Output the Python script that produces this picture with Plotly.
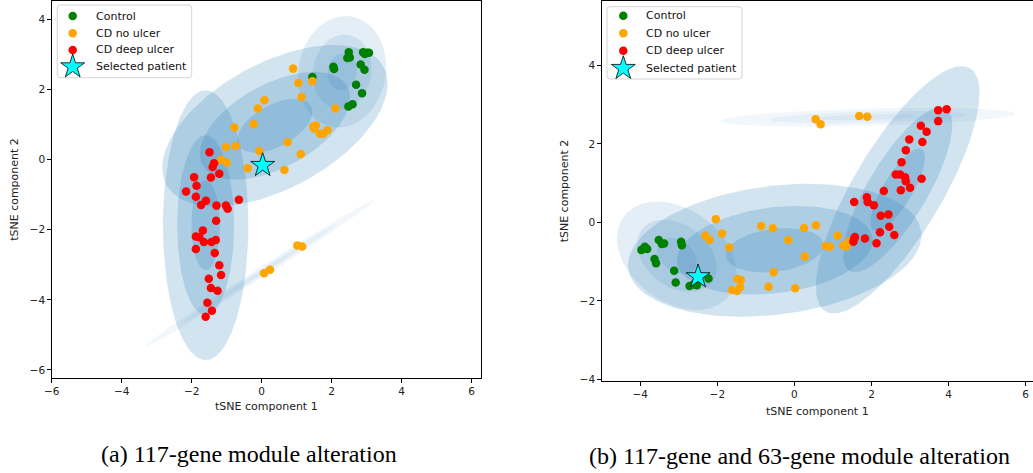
import numpy as np
import plotly.graph_objects as go

# ---------------- Panel (a): 117-gene module alteration ----------------
a_ctrl_x = [2.49, 2.45, 2.52, 2.90, 3.00, 3.07, 2.95, 2.05, 2.07, 2.83, 2.94, 1.45, 2.70, 2.87, 2.48, 2.60]
a_ctrl_y = [3.07, 2.90, 2.92, 3.07, 3.05, 3.05, 3.02, 2.65, 2.59, 2.72, 2.57, 2.36, 2.14, 1.90, 1.52, 1.58]

a_noul_x = [0.90, 1.05, 1.45, 1.14, 0.08, -0.11, 2.11, -0.23, -0.78, 1.48, 1.55, 1.50, 1.67, 1.76,
            1.88, 0.74, -1.02, -0.74, -0.07, 1.12, -1.16, -1.00, -0.40, 0.65, 1.02, 1.16, 0.07, 0.24]
a_noul_y = [2.60, 2.19, 2.24, 1.79, 1.70, 1.46, 1.46, 1.01, 0.92, 0.95, 0.98, 0.89, 0.74, 0.74,
            0.84, 0.50, 0.36, 0.39, 0.25, 0.16, 0.00, -0.08, -0.24, -0.29, -2.45, -2.48, -3.24, -3.14]

a_deep_x = [-1.49, -1.36, -1.40, -1.21, -1.45, -1.93, -1.86, -2.16, -1.88, -1.73, -1.59, -1.29, -1.02,
            -0.97, -0.65, -1.30, -1.68, -1.88, -1.78, -1.65, -1.43, -1.31, -1.88, -1.34, -1.21, -1.16,
            -1.51, -1.45, -1.26, -1.55, -1.42, -1.60]
a_deep_y = [0.21, -0.10, -0.21, -0.40, -0.51, -0.50, -0.74, -0.91, -1.06, -1.29, -1.17, -1.31, -1.31,
            -1.40, -1.14, -1.74, -2.02, -2.19, -2.21, -2.35, -2.35, -2.29, -2.55, -2.66, -3.01, -3.29,
            -3.40, -3.66, -3.74, -4.08, -4.31, -4.48]

a_sel_x = [0.03]
a_sel_y = [-0.16]

# Gaussian components (centre, 1-sigma semi-axes, angle in degrees, alpha)
a_ell_cx = [0.38, -1.60, 2.30, -0.05]
a_ell_cy = [0.97, -1.87, 2.51, -3.24]
a_ell_sa = [1.177, 1.283, 0.533, 1.30]
a_ell_sb = [0.597, 0.407, 0.417, 0.047]
a_ell_ang = [28.4, 90.0, 80.0, 32.5]
a_ell_alpha = [0.2, 0.2, 0.12, 0.06]

# ---------------- Panel (b): 117-gene and 63-gene module alteration ----------------
b_ctrl_x = [-3.97, -3.88, -3.82, -3.90, -3.52, -3.44, -3.38, -2.94, -2.92, -3.63, -3.59, -3.12, -3.08,
            -2.72, -2.62, -2.53, -2.23]
b_ctrl_y = [-0.70, -0.62, -0.68, -0.66, -0.45, -0.55, -0.54, -0.49, -0.58, -0.93, -1.04, -1.23, -1.53,
            -1.62, -1.58, -1.60, -1.43]

b_noul_x = [-2.04, -2.31, -2.20, -1.88, -1.69, -0.86, -0.56, -0.16, 0.25, 0.56, 0.27, -0.54, -0.67,
            0.02, -1.48, -1.39, -1.62, -1.49, -1.41, 1.12, 0.81, 0.92, 1.27, 1.34, 1.42, 0.55, 0.68,
            1.68, 1.89]
b_noul_y = [0.08, -0.34, -0.45, -0.28, -0.64, -0.09, -0.15, -0.45, -0.14, -0.07, -0.87, -1.27, -1.64,
            -1.68, -1.44, -1.47, -1.72, -1.75, -1.65, -0.34, -0.60, -0.62, -0.58, -0.62, -0.48, 2.63,
            2.50, 2.71, 2.69]

b_deep_x = [3.73, 3.95, 3.73, 3.28, 3.43, 3.32, 2.98, 2.89, 2.78, 2.63, 2.74, 2.87, 2.89, 3.30, 2.76,
            3.00, 2.32, 1.88, 1.90, 2.06, 1.55, 2.24, 2.44, 2.46, 2.22, 2.59, 2.13, 1.83, 1.55, 1.53, 1.57]
b_deep_y = [2.86, 2.88, 2.58, 2.46, 2.31, 2.05, 2.11, 1.84, 1.53, 1.22, 1.22, 1.15, 1.05, 1.11, 0.82,
            0.88, 0.80, 0.64, 0.52, 0.44, 0.52, 0.17, 0.20, -0.11, -0.25, -0.32, -0.53, -0.41, -0.41,
            -0.49, -0.37]

b_sel_x = [-2.50]
b_sel_y = [-1.38]

b_ell_cx = [-0.51, 2.68, -3.05, 1.90]
b_ell_cy = [-0.71, 0.83, -0.85, 2.68]
b_ell_sa = [1.277, 1.207, 0.567, 1.277]
b_ell_sb = [0.547, 0.383, 0.397, 0.073]
b_ell_ang = [7.0, 58.7, -35.0, 1.4]
b_ell_alpha = [0.2, 0.2, 0.12, 0.06]

labels = ["Control", "CD no ulcer", "CD deep ulcer", "Selected patient"]
colors = ["green", "orange", "red", "cyan"]
captions = ["(a) 117-gene module alteration", "(b) 117-gene and 63-gene module alteration"]

FONT = "DejaVu Sans"
W, H = 1033, 473

fig = go.Figure()


def marker_style(lab, col):
    if lab == "Selected patient":
        return dict(symbol="star", size=18, color=col, line=dict(color="black", width=0.8))
    return dict(symbol="circle", size=8.5, color=col, line=dict(width=0))


def add_ellipses(cx, cy, sa, sb, ang, alpha, xa, ya):
    t = np.linspace(0, 2 * np.pi, 160)
    for i in range(len(cx)):
        th = np.deg2rad(ang[i])
        for nsig in (1, 2, 3):
            a = nsig * sa[i]
            b = nsig * sb[i]
            x = cx[i] + a * np.cos(t) * np.cos(th) - b * np.sin(t) * np.sin(th)
            y = cy[i] + a * np.cos(t) * np.sin(th) + b * np.sin(t) * np.cos(th)
            fig.add_trace(go.Scatter(
                x=x, y=y, mode="lines", fill="toself",
                fillcolor=f"rgba(31,119,180,{alpha[i]})",
                line=dict(width=0, color="rgba(0,0,0,0)"),
                hoverinfo="skip", showlegend=False, xaxis=xa, yaxis=ya))


def add_points(groups, xa, ya):
    for (gx, gy), lab, col in zip(groups, labels, colors):
        fig.add_trace(go.Scatter(x=gx, y=gy, mode="markers", name=lab, marker=marker_style(lab, col),
                                 xaxis=xa, yaxis=ya, showlegend=False))


add_ellipses(a_ell_cx, a_ell_cy, a_ell_sa, a_ell_sb, a_ell_ang, a_ell_alpha, "x", "y")
add_points([(a_ctrl_x, a_ctrl_y), (a_noul_x, a_noul_y), (a_deep_x, a_deep_y), (a_sel_x, a_sel_y)], "x", "y")
add_ellipses(b_ell_cx, b_ell_cy, b_ell_sa, b_ell_sb, b_ell_ang, b_ell_alpha, "x2", "y2")
add_points([(b_ctrl_x, b_ctrl_y), (b_noul_x, b_noul_y), (b_deep_x, b_deep_y), (b_sel_x, b_sel_y)], "x2", "y2")


def px_x(px):
    return px / W


def px_y(py):
    return (H - py) / H


# ---- matplotlib-style legends (one per panel), laid out in window pixels on an overlay axis ----
legend_boxes = [(57.3, 5.0, 191.7, 77.7), (607.0, 6.7, 742.0, 79.0)]   # x0, y0, x1, y1
legend_key_x = [72.7, 623.3]
legend_text_x = [94.0, 643.5]
legend_row_y = [[16.0, 33.3, 50.0, 66.7], [15.7, 33.3, 50.7, 68.3]]

shapes = []
annotations = []
for k in range(2):
    x0, y0, x1, y1 = legend_boxes[k]
    r = 3.0
    X0, X1 = px_x(x0), px_x(x1)
    Y0, Y1 = px_y(y0), px_y(y1)
    rx, ry = r / W, r / H
    path = (f"M {X0 + rx},{Y0} L {X1 - rx},{Y0} Q {X1},{Y0} {X1},{Y0 - ry} "
            f"L {X1},{Y1 + ry} Q {X1},{Y1} {X1 - rx},{Y1} L {X0 + rx},{Y1} Q {X0},{Y1} {X0},{Y1 + ry} "
            f"L {X0},{Y0 - ry} Q {X0},{Y0} {X0 + rx},{Y0} Z")
    shapes.append(dict(type="path", path=path, xref="paper", yref="paper", layer="below",
                       line=dict(color="#d4d4d4", width=1), fillcolor="rgba(255,255,255,0.8)"))
    for lab, col, ry_ in zip(labels, colors, legend_row_y[k]):
        fig.add_trace(go.Scatter(x=[legend_key_x[k]], y=[ry_], mode="markers", marker=marker_style(lab, col),
                                 xaxis="x3", yaxis="y3", showlegend=False, hoverinfo="skip"))
        annotations.append(dict(text=lab, x=px_x(legend_text_x[k]), y=px_y(ry_), xref="paper", yref="paper",
                                xanchor="left", yanchor="middle", showarrow=False,
                                font=dict(family=FONT, size=11, color="#111")))

annotations.append(dict(text=captions[0], x=px_x(249), y=px_y(454), xref="paper", yref="paper",
                        xanchor="center", yanchor="middle", showarrow=False,
                        font=dict(family="Liberation Serif", size=24, color="black")))
annotations.append(dict(text=captions[1], x=px_x(799), y=px_y(456), xref="paper", yref="paper",
                        xanchor="center", yanchor="middle", showarrow=False,
                        font=dict(family="Liberation Serif", size=24, color="black")))

axis_common = dict(showgrid=False, zeroline=False, showline=True, linecolor="black", linewidth=1,
                   ticks="outside", ticklen=3.5, tickwidth=0.8, tickcolor="black",
                   tickfont=dict(family=FONT, size=10.5, color="#222"), automargin=False)
title_font = dict(family=FONT, size=11, color="#222")

fig.update_layout(
    width=W, height=H, autosize=False, showlegend=False,
    margin=dict(l=0, r=0, t=0, b=0),
    paper_bgcolor="white", plot_bgcolor="rgba(0,0,0,0)",
    xaxis=dict(domain=[px_x(51.7), px_x(481)], range=[-6.0, 6.27], tickvals=[-6, -4, -2, 0, 2, 4, 6],
               mirror=True, anchor="y",
               title=dict(text="tSNE component 1", font=title_font, standoff=6), **axis_common),
    yaxis=dict(domain=[px_y(378), px_y(1)], range=[-6.23, 4.53], tickvals=[-6, -4, -2, 0, 2, 4],
               mirror=True, anchor="x",
               title=dict(text="tSNE component 2", font=title_font, standoff=8), **axis_common),
    xaxis2=dict(domain=[px_x(601.7), 1.0], range=[-5.0, 6.19], tickvals=[-4, -2, 0, 2, 4, 6],
                mirror=True, anchor="y2",
                title=dict(text="tSNE component 1", font=title_font, standoff=8), **axis_common),
    yaxis2=dict(domain=[px_y(381), px_y(1)], range=[-4.04, 5.64], tickvals=[-4, -2, 0, 2, 4],
                mirror=False, anchor="x2",
                title=dict(text="tSNE component 2", font=title_font, standoff=8), **axis_common),
    xaxis3=dict(domain=[0, 1], range=[0, W], visible=False, fixedrange=True, anchor="y3"),
    yaxis3=dict(domain=[0, 1], range=[H, 0], visible=False, fixedrange=True, anchor="x3"),
    shapes=shapes,
    annotations=annotations,
)

# remove the default 8px page margin so the 1033x473 figure fills the window exactly
fig.write_html("out.html", config={"displayModeBar": False},
               post_script="document.body.style.margin='0';document.body.style.overflow='hidden';")
